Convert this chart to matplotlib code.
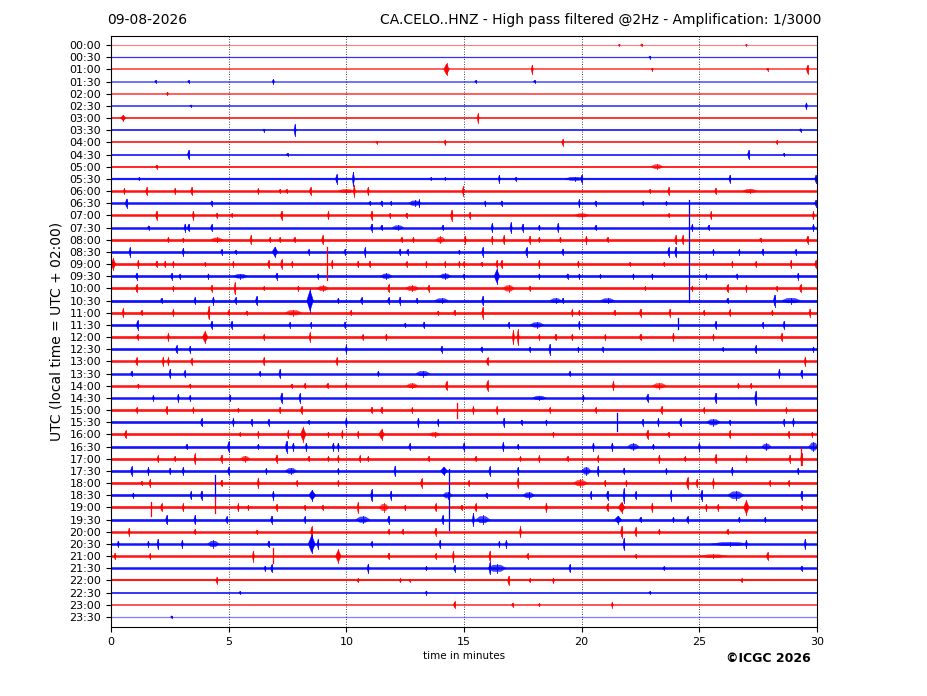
import matplotlib
matplotlib.use("Agg")
import matplotlib.pyplot as plt

# ---------------- data ----------------
row_labels = ["00:00", "00:30", "01:00", "01:30", "02:00", "02:30", "03:00", "03:30",
              "04:00", "04:30", "05:00", "05:30", "06:00", "06:30", "07:00", "07:30",
              "08:00", "08:30", "09:00", "09:30", "10:00", "10:30", "11:00", "11:30",
              "12:00", "12:30", "13:00", "13:30", "14:00", "14:30", "15:00", "15:30",
              "16:00", "16:30", "17:00", "17:30", "18:00", "18:30", "19:00", "19:30",
              "20:00", "20:30", "21:00", "21:30", "22:00", "22:30", "23:00", "23:30"]
trace_colors = ["#ff0000", "#0000ff"]
x_ticks = [0, 5, 10, 15, 20, 25, 30]

# background noise thickness per row (points) and its opacity
noise_lw = [0.8, 0.9, 1.1, 1.1, 1.1, 1.1, 1.3, 1.3, 1.3, 1.3, 1.4, 1.6,
            1.8, 1.8, 1.8, 1.8, 1.9, 1.9, 1.9, 1.9, 1.9, 2.0, 1.9, 1.9,
            1.9, 1.9, 1.8, 1.8, 1.8, 1.8, 1.9, 1.9, 1.9, 1.9, 1.9, 1.9,
            1.9, 1.9, 1.9, 1.9, 1.8, 1.8, 1.8, 1.8, 1.5, 1.3, 1.1, 0.9]
noise_alpha = [0.5, 0.8, 0.8, 0.7, 0.8, 0.85, 0.85, 0.85, 0.85, 0.85, 0.85, 0.9,
               0.92, 0.92, 0.92, 0.92, 0.92, 0.92, 0.92, 0.92, 0.92, 0.92, 0.92, 0.92,
               0.92, 0.92, 0.92, 0.92, 0.92, 0.92, 0.92, 0.92, 0.92, 0.92, 0.92, 0.92,
               0.92, 0.92, 0.92, 0.92, 0.92, 0.92, 0.92, 0.92, 0.9, 0.85, 0.85, 0.5]

# bursts per row: (minute, amplitude in row units[, half-duration in minutes])
bursts = {
    "00:00": [(21.6, 0.06), (22.55, 0.1), (27.0, 0.06)],
    "00:30": [(22.9, 0.1)],
    "01:00": [(14.26, 0.45, 0.12), (17.9, 0.35), (23.0, 0.1), (27.9, 0.1), (29.6, 0.35)],
    "01:30": [(1.9, 0.1), (3.3, 0.1), (6.9, 0.18), (15.5, 0.1), (18.0, 0.1)],
    "02:00": [(2.4, 0.12)],
    "02:30": [(3.4, 0.08), (29.55, 0.25)],
    "03:00": [(0.52, 0.22, 0.12), (15.6, 0.35)],
    "03:30": [(6.5, 0.1), (7.82, 0.45), (29.3, 0.12)],
    "04:00": [(11.3, 0.1), (14.2, 0.2), (19.2, 0.25), (28.3, 0.15)],
    "04:30": [(3.3, 0.35), (7.5, 0.12), (27.1, 0.35), (28.6, 0.12)],
    "05:00": [(1.94, 0.15), (23.2, 0.22, 0.25)],
    "05:30": [(1.2, 0.12), (9.59, 0.35), (10.3, 0.55), (13.6, 0.12), (14.2, 0.12), (16.5, 0.3),
              (17.2, 0.15), (19.7, 0.18, 0.4), (20.0, 0.3), (26.3, 0.3), (29.95, 0.3)],
    "06:00": [(0.57, 0.22), (1.52, 0.3), (2.72, 0.22), (3.43, 0.3), (6.26, 0.2), (7.18, 0.15),
              (7.46, 0.15), (8.48, 0.3), (10.0, 0.17, 0.35), (10.34, 0.42), (10.93, 0.32),
              (14.97, 0.35), (22.9, 0.15), (23.7, 0.3), (25.7, 0.25), (27.15, 0.2, 0.3)],
    "06:30": [(0.66, 0.35), (4.28, 0.2), (11.0, 0.15), (11.5, 0.2), (11.9, 0.15), (12.9, 0.25, 0.25),
              (13.1, 0.28), (15.9, 0.2), (16.6, 0.2), (19.9, 0.3), (20.6, 0.2), (22.6, 0.15),
              (23.6, 0.15), (29.95, 0.25)],
    "07:00": [(1.94, 0.35), (3.5, 0.35), (4.5, 0.2), (5.13, 0.15), (7.25, 0.35), (9.24, 0.3),
              (11.08, 0.35), (11.86, 0.2), (12.56, 0.2), (14.48, 0.42), (15.25, 0.25),
              (20.0, 0.18, 0.3), (23.7, 0.15), (25.5, 0.3), (29.85, 0.3)],
    "07:30": [(1.6, 0.15), (3.15, 0.3), (3.3, 0.28), (4.28, 0.25), (11.08, 0.3), (11.5, 0.2),
              (12.2, 0.2, 0.25), (14.1, 0.2), (16.2, 0.35), (17.0, 0.4), (17.5, 0.3), (18.2, 0.2),
              (19.0, 0.35), (20.6, 0.2), (24.7, 0.25), (25.4, 0.2), (29.85, 0.25)],
    "08:00": [(2.44, 0.2), (3.07, 0.15), (4.5, 0.2, 0.25), (5.95, 0.35), (6.76, 0.2), (7.18, 0.2),
              (7.8, 0.2), (9.0, 0.35), (12.35, 0.2), (12.85, 0.2), (14.0, 0.28, 0.2), (15.05, 0.3),
              (16.2, 0.3), (16.7, 0.35), (17.8, 0.3), (18.2, 0.2), (19.1, 0.2), (20.2, 0.3),
              (21.1, 0.2), (24.0, 0.35), (24.3, 0.35), (27.6, 0.15), (29.6, 0.3)],
    "08:30": [(0.81, 0.35), (3.07, 0.3), (4.7, 0.2), (5.3, 0.15), (6.97, 0.4, 0.12), (8.4, 0.2),
              (9.94, 0.2), (10.8, 0.35), (12.28, 0.25), (12.6, 0.2), (14.8, 0.15), (15.8, 0.35),
              (17.66, 0.35), (19.2, 0.25), (23.7, 0.35), (24.0, 0.4), (25.6, 0.2), (26.7, 0.2),
              (27.7, 0.25), (29.1, 0.2)],
    "09:00": [(0.1, 0.45, 0.1), (1.16, 0.3), (1.94, 0.25), (2.3, 0.25), (2.65, 0.2), (4.0, 0.15),
              (5.2, 0.2), (6.7, 0.3), (7.25, 0.35), (7.7, 0.2), (9.4, 0.3), (10.5, 0.25), (11.0, 0.25),
              (12.56, 0.2), (13.4, 0.2), (14.2, 0.2), (14.8, 0.2), (15.0, 0.2), (15.75, 0.15),
              (16.4, 0.3), (16.6, 0.3), (18.2, 0.3), (19.86, 0.25), (22.05, 0.15), (23.5, 0.15),
              (26.4, 0.2), (27.4, 0.2), (28.9, 0.3), (29.95, 0.3)],
    "09:30": [(1.09, 0.25), (2.58, 0.25), (2.93, 0.2), (4.14, 0.2), (5.5, 0.22, 0.3), (7.04, 0.25),
              (8.8, 0.2), (11.7, 0.25, 0.25), (14.2, 0.25, 0.25), (15.0, 0.2), (16.4, 0.55, 0.12),
              (18.2, 0.2), (19.4, 0.2), (19.9, 0.2), (20.8, 0.15), (22.2, 0.2), (23.0, 0.2),
              (25.3, 0.2), (26.6, 0.2), (29.2, 0.25)],
    "10:00": [(1.09, 0.3), (2.65, 0.2), (4.28, 0.25), (5.27, 0.45), (6.5, 0.15), (7.96, 0.2),
              (9.0, 0.25, 0.25), (11.8, 0.3), (12.8, 0.25, 0.3), (13.5, 0.25), (16.9, 0.3, 0.25),
              (17.8, 0.2), (22.7, 0.15), (24.7, 0.2), (26.2, 0.3), (27.0, 0.25), (28.3, 0.2),
              (29.3, 0.3)],
    "10:30": [(2.15, 0.2), (3.57, 0.25), (4.35, 0.3), (5.3, 0.25), (6.19, 0.35), (8.46, 0.85, 0.14),
              (9.66, 0.2), (10.65, 0.25), (11.8, 0.25), (12.28, 0.3), (13.0, 0.2), (14.05, 0.22, 0.3),
              (15.8, 0.35), (18.9, 0.22, 0.25), (19.2, 0.2), (21.1, 0.22, 0.3), (26.2, 0.2),
              (28.2, 0.45), (28.9, 0.25, 0.4)],
    "11:00": [(0.52, 0.35), (1.3, 0.2), (2.65, 0.25), (4.16, 0.5), (5.0, 0.2), (5.77, 0.15),
              (7.75, 0.25, 0.35), (10.2, 0.2), (13.9, 0.15), (14.6, 0.2), (15.8, 0.45), (19.6, 0.25),
              (19.9, 0.2), (21.4, 0.2), (22.5, 0.3), (23.75, 0.3), (25.2, 0.2), (26.3, 0.25),
              (28.1, 0.2), (29.7, 0.3)],
    "11:30": [(1.13, 0.35), (4.28, 0.3), (5.13, 0.3), (7.6, 0.2), (8.5, 0.2), (9.94, 0.25),
              (12.5, 0.15), (13.3, 0.25), (16.9, 0.2), (18.1, 0.25, 0.3), (19.9, 0.3), (25.7, 0.3),
              (27.7, 0.2), (28.6, 0.3)],
    "12:00": [(1.13, 0.2), (2.44, 0.3), (4.0, 0.45, 0.12), (6.5, 0.2), (8.46, 0.35), (10.7, 0.2),
              (11.7, 0.25), (17.1, 0.55), (17.3, 0.6), (18.2, 0.2), (18.9, 0.25), (19.6, 0.25),
              (21.0, 0.2), (22.5, 0.25), (23.9, 0.3), (25.6, 0.2), (28.5, 0.3)],
    "12:30": [(2.79, 0.3), (3.36, 0.25), (10.0, 0.3), (14.05, 0.25), (15.75, 0.2), (17.8, 0.2),
              (18.65, 0.4), (19.86, 0.2), (20.9, 0.2), (26.0, 0.15), (27.4, 0.3), (29.85, 0.2)],
    "13:00": [(1.09, 0.3), (2.22, 0.35), (2.44, 0.3), (3.43, 0.25), (6.5, 0.3), (9.6, 0.3),
              (16.0, 0.3), (29.5, 0.35)],
    "13:30": [(0.88, 0.2), (2.51, 0.35), (3.14, 0.25), (6.33, 0.2), (7.18, 0.35), (11.36, 0.2),
              (13.25, 0.25, 0.3), (19.5, 0.2), (28.4, 0.35), (29.35, 0.3)],
    "14:00": [(1.16, 0.15), (3.36, 0.15), (7.68, 0.15), (8.24, 0.2), (9.2, 0.2), (10.0, 0.2),
              (12.8, 0.22, 0.25), (14.26, 0.35), (16.0, 0.4), (21.35, 0.35), (23.3, 0.25, 0.3),
              (26.66, 0.2), (27.2, 0.2)],
    "14:30": [(1.8, 0.2), (2.86, 0.3), (3.36, 0.2), (5.06, 0.25), (7.25, 0.4), (8.03, 0.35),
              (18.2, 0.2, 0.3), (20.07, 0.25), (22.8, 0.3), (25.7, 0.4), (27.4, 0.55)],
    "15:00": [(1.09, 0.2), (2.37, 0.3), (3.5, 0.2), (5.41, 0.15), (7.18, 0.25), (8.1, 0.3),
              (11.08, 0.25), (11.5, 0.25), (12.8, 0.2), (15.4, 0.3), (16.4, 0.3), (18.65, 0.2),
              (20.6, 0.2), (23.4, 0.3), (25.2, 0.2), (28.7, 0.2)],
    "15:30": [(3.85, 0.3), (5.2, 0.3), (5.98, 0.25), (6.7, 0.25), (8.4, 0.15), (10.0, 0.35),
              (13.06, 0.35), (13.9, 0.25), (16.7, 0.35), (17.45, 0.2), (18.5, 0.2), (22.6, 0.25),
              (23.26, 0.3), (24.2, 0.3), (25.6, 0.3, 0.3), (26.3, 0.2), (28.6, 0.25), (29.0, 0.3)],
    "16:00": [(0.62, 0.3), (5.48, 0.15), (6.26, 0.25), (7.53, 0.3), (8.17, 0.55, 0.12), (9.24, 0.2),
              (9.83, 0.3), (10.5, 0.25), (11.5, 0.4, 0.12), (13.75, 0.2, 0.25), (18.8, 0.2),
              (22.8, 0.35), (23.7, 0.2), (26.3, 0.3), (28.8, 0.25), (29.8, 0.2)],
    "16:30": [(3.22, 0.2), (5.0, 0.4), (6.26, 0.2), (7.46, 0.45), (7.75, 0.3), (8.3, 0.3),
              (9.45, 0.3), (9.66, 0.3), (12.7, 0.25), (15.0, 0.3), (16.67, 0.35), (17.3, 0.2),
              (20.5, 0.3), (21.3, 0.3), (22.2, 0.28, 0.25), (23.05, 0.2), (25.0, 0.3),
              (27.85, 0.28, 0.2), (29.85, 0.4, 0.2)],
    "17:00": [(2.0, 0.25), (2.72, 0.2), (3.57, 0.4), (4.7, 0.3), (5.7, 0.25, 0.2), (7.04, 0.3),
              (8.4, 0.2), (9.24, 0.2), (9.66, 0.25), (10.58, 0.25), (10.93, 0.2), (13.5, 0.2),
              (15.5, 0.2), (17.4, 0.2), (18.2, 0.25), (19.4, 0.2), (20.7, 0.25), (23.3, 0.3),
              (24.4, 0.2), (25.7, 0.35), (27.0, 0.25), (28.85, 0.3), (29.35, 0.45)],
    "17:30": [(0.88, 0.35), (1.59, 0.3), (2.51, 0.25), (3.07, 0.3), (5.0, 0.3), (6.6, 0.2),
              (7.65, 0.28, 0.25), (9.66, 0.2), (12.07, 0.4), (14.15, 0.33, 0.15), (16.1, 0.35),
              (17.3, 0.3), (20.2, 0.35, 0.2), (20.7, 0.4), (21.8, 0.25), (23.6, 0.2), (26.4, 0.3),
              (29.2, 0.25)],
    "18:00": [(1.3, 0.15), (1.66, 0.3), (4.7, 0.25), (6.26, 0.4), (7.9, 0.2), (9.66, 0.2),
              (13.2, 0.35), (15.2, 0.2), (17.3, 0.4), (19.95, 0.3, 0.3), (21.0, 0.25), (21.9, 0.2),
              (24.5, 0.45), (24.9, 0.3), (25.6, 0.35), (28.0, 0.2), (28.8, 0.2)],
    "18:30": [(0.95, 0.2), (3.4, 0.3), (3.85, 0.35), (6.9, 0.35), (8.55, 0.4, 0.15), (11.08, 0.45),
              (11.9, 0.35), (14.3, 0.3, 0.2), (15.96, 0.2), (17.75, 0.28, 0.25), (20.4, 0.3),
              (21.1, 0.35), (21.8, 0.55), (22.3, 0.3), (23.8, 0.4), (25.1, 0.4),
              (26.55, 0.38, 0.35), (29.35, 0.35)],
    "19:00": [(2.15, 0.3), (3.07, 0.3), (5.41, 0.3), (5.84, 0.2), (7.04, 0.25), (8.24, 0.2),
              (9.0, 0.2), (10.5, 0.4), (11.6, 0.35, 0.2), (12.5, 0.2), (13.8, 0.3), (14.9, 0.2),
              (15.5, 0.3), (18.5, 0.35), (21.1, 0.3), (21.7, 0.4, 0.15), (23.0, 0.35), (25.3, 0.25),
              (25.8, 0.25), (27.0, 0.55, 0.12), (29.35, 0.2)],
    "19:30": [(2.37, 0.35), (3.57, 0.35), (4.92, 0.25), (6.83, 0.3), (8.24, 0.25), (10.7, 0.3, 0.3),
              (11.8, 0.3), (14.1, 0.35), (15.4, 0.5), (15.8, 0.35, 0.3), (21.55, 0.3, 0.15),
              (22.5, 0.2), (23.9, 0.2), (24.5, 0.25), (26.7, 0.2), (27.8, 0.2)],
    "20:00": [(0.77, 0.3), (3.57, 0.2), (6.2, 0.15), (8.53, 0.4), (11.8, 0.2), (12.4, 0.2),
              (13.8, 0.3), (17.4, 0.4), (21.7, 0.45), (22.3, 0.35), (23.3, 0.2), (26.2, 0.2)],
    "20:30": [(0.31, 0.25), (1.59, 0.2), (2.0, 0.4), (3.03, 0.3), (4.35, 0.3, 0.25), (6.7, 0.25),
              (8.53, 0.7, 0.15), (8.8, 0.35), (11.08, 0.2), (13.98, 0.3), (16.5, 0.2), (16.8, 0.3),
              (21.8, 0.45), (26.3, 0.18, 0.8), (27.0, 0.3), (29.5, 0.4)],
    "21:00": [(0.17, 0.25), (1.66, 0.2), (6.05, 0.4), (9.66, 0.5, 0.12), (11.8, 0.25), (13.8, 0.2),
              (14.55, 0.4), (16.1, 0.4), (17.7, 0.2), (22.3, 0.15), (25.6, 0.15, 0.6), (27.9, 0.3)],
    "21:30": [(6.55, 0.2), (6.83, 0.3), (10.93, 0.35), (13.4, 0.15), (14.6, 0.25), (16.4, 0.35, 0.4),
              (16.1, 0.45), (19.5, 0.3), (23.5, 0.15), (29.35, 0.2)],
    "22:00": [(4.5, 0.25), (10.5, 0.15), (12.3, 0.15), (12.7, 0.1), (16.9, 0.35), (17.8, 0.15),
              (18.8, 0.2), (26.8, 0.15)],
    "22:30": [(5.48, 0.1), (13.4, 0.15), (22.9, 0.1)],
    "23:00": [(14.6, 0.25), (17.07, 0.15), (18.2, 0.1), (21.3, 0.2)],
    "23:30": [(2.58, 0.1)],
}

# long thin glitches: row, minute, extent above, extent below (row units)
spike_rows = ["08:30", "09:00", "11:30", "15:00", "15:30", "17:00", "18:30", "18:30", "19:00", "19:00", "21:00"]
spike_min = [24.56, 9.17, 24.1, 14.69, 21.5, 29.3, 4.42, 14.37, 4.4, 1.7, 6.9]
spike_up = [4.3, 1.4, 0.55, 0.6, 0.75, 0.9, 1.7, 2.2, 0.9, 0.45, 0.65]
spike_down = [4.1, 1.3, 0.3, 0.65, 0.7, 0.5, 0.2, 2.85, 0.45, 0.7, 0.6]

# ---------------- figure ----------------
fig = plt.figure(figsize=(9.27, 6.96), dpi=100)
ax = fig.add_axes([111 / 927, 1 - 627 / 696, 706 / 927, 591 / 696])

for x in x_ticks[1:-1]:
    ax.axvline(x, color="black", lw=0.6, ls=(0, (1, 2)), zorder=0.5)

row_index = {lab: i for i, lab in enumerate(row_labels)}

for i, lab in enumerate(row_labels):
    c = trace_colors[i % 2]
    ax.plot([x_ticks[0], x_ticks[-1]], [i, i], color=c, lw=noise_lw[i],
            alpha=noise_alpha[i], solid_capstyle="butt", zorder=2)
    for ev in bursts.get(lab, []):
        t, a = ev[0], ev[1]
        w = ev[2] if len(ev) > 2 else 0.05
        if w <= 0.15:
            xs = [t - w, t, t + w, t]
            ys = [i, i - a, i, i + a]
            ax.fill(xs, ys, color=c, lw=0.3, zorder=2.5)
            ax.plot([t, t], [i - a * 1.1, i + a * 1.1], color=c, lw=0.6, zorder=2.5)
        else:
            a2 = a * 0.75
            xs = [t - w, t - 0.4 * w, t + 0.4 * w, t + w, t + 0.4 * w, t - 0.4 * w]
            ys = [i, i - a2, i - a2, i, i + a2, i + a2]
            ax.fill(xs, ys, color=c, lw=0.3, alpha=0.7, zorder=2.5)
            ax.plot([t, t], [i - a, i + a], color=c, lw=0.6, zorder=2.5)

for lab, t, up, dn in zip(spike_rows, spike_min, spike_up, spike_down):
    i = row_index[lab]
    ax.plot([t, t], [i - up, i + dn], color=trace_colors[i % 2], lw=0.9, zorder=3)

ax.set_xlim(x_ticks[0], x_ticks[-1])
ax.set_ylim(47 + 10 / 12.17, -9 / 12.17)
ax.set_xticks(x_ticks)
ax.set_xticklabels([str(v) for v in x_ticks])
ax.set_yticks(range(len(row_labels)))
ax.set_yticklabels(row_labels)
ax.tick_params(axis="both", labelsize=8)
ax.set_xlabel("time in minutes", fontsize=7.5, labelpad=3)
ax.set_ylabel("UTC (local time = UTC + 02:00)", fontsize=10, labelpad=4)

fig.text(107 / 927, 1 - 20 / 696, "09-08-2026", fontsize=10, ha="left", va="center")
fig.text(821 / 927, 1 - 20 / 696, "CA.CELO..HNZ - High pass filtered @2Hz - Amplification: 1/3000",
         fontsize=10, ha="right", va="center")
fig.text(811 / 927, 1 - 658 / 696, "\u00a9ICGC 2026", fontsize=9, fontweight="bold",
         ha="right", va="center")

fig.savefig("out.png", dpi=100)
